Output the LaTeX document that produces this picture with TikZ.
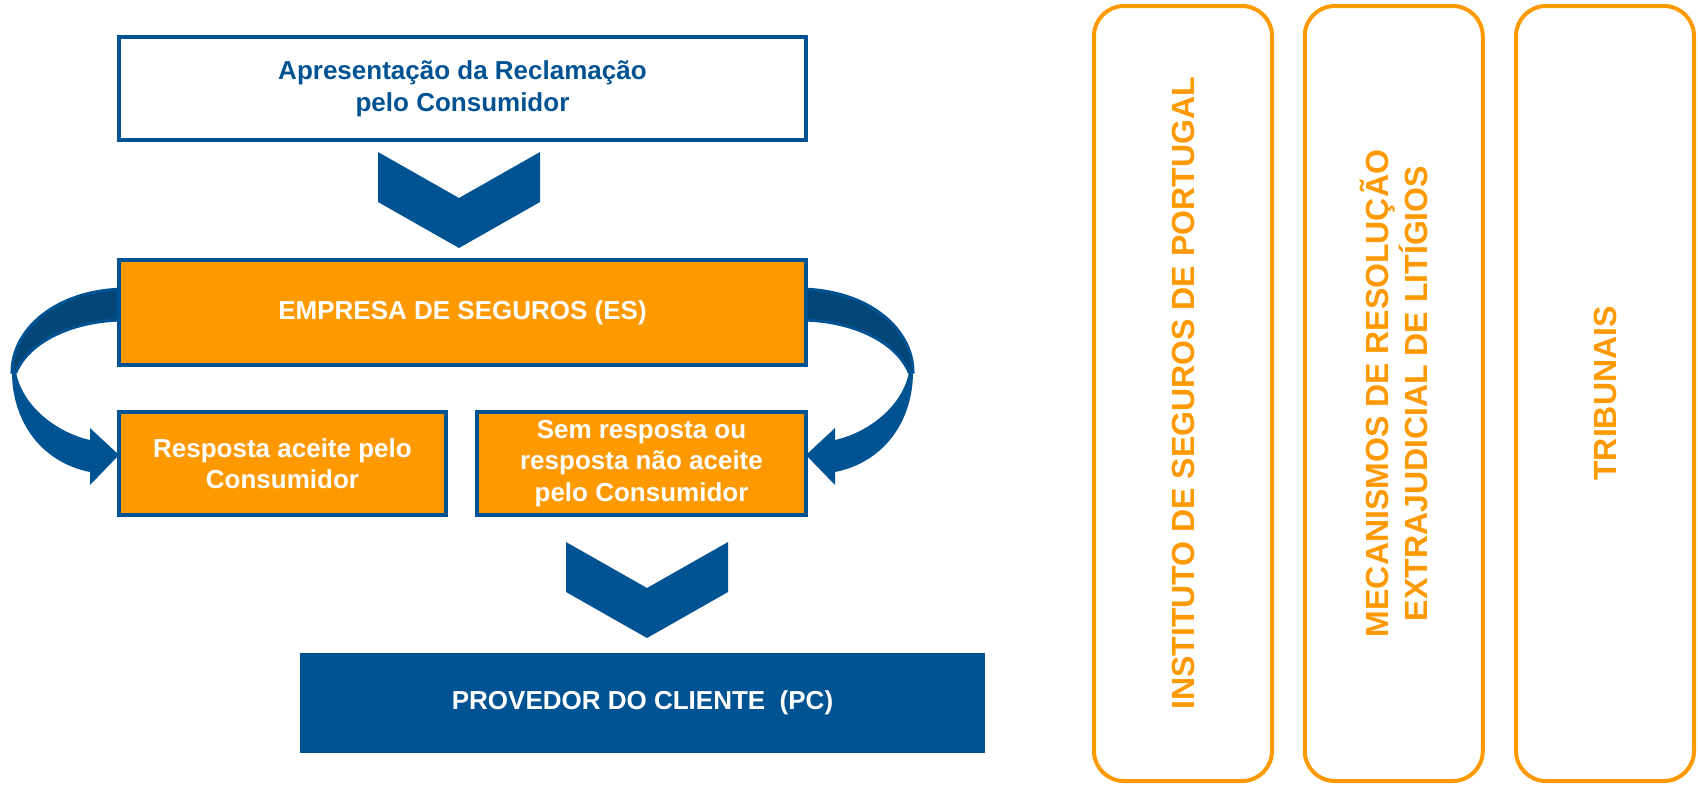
\documentclass[tikz,border=0pt]{standalone}
\usepackage{fontspec}
\setmainfont{Liberation Sans}
\usepackage{tikz}
\usetikzlibrary{calc}

\definecolor{r0g83b147}{RGB}{0,83,147}
\definecolor{r3g71b120}{RGB}{3,71,120}
\definecolor{r255g153b0}{RGB}{255,153,0}

\tikzset{
  stepbox/.style={rectangle, draw=r0g83b147, line width=2pt, inner sep=0pt, align=center,
    font=\fontsize{13}{15.8}\selectfont\bfseries},
  panel/.style={rectangle, rounded corners=15pt, draw=r255g153b0, line width=2pt, fill=white,
    text=r255g153b0, inner sep=0pt, align=center, rotate=90,
    minimum width=387.5pt, minimum height=89pt,
    font=\fontsize{16}{19.75}\selectfont\bfseries},
  bandback/.style={fill=r3g71b120, draw=r0g83b147, line width=1.5pt},
  bandfront/.style={fill=r0g83b147}
}

\begin{document}
\begin{tikzpicture}[x=0.5pt, y=-0.5pt]
  \useasboundingbox (0,0) rectangle (1698,784);

  % Drawing curved arrow ES -> resposta aceite
  \filldraw[bandback] (125,289) .. controls (55,290) and (12,330) .. (12,372) -- (16,372)
    .. controls (30,340) and (75,320) .. (125,320) -- cycle;
  \fill[bandfront] (12,372) .. controls (12,420) and (40,462) .. (90,472) -- (90,485) -- (119,455)
    -- (90,428) -- (90,440) .. controls (55,432) and (22,405) .. (16,372) -- cycle;

  % Drawing curved arrow ES -> sem resposta (mirrored)
  \begin{scope}[shift={(925,0)}, xscale=-1]
    \filldraw[bandback] (125,289) .. controls (55,290) and (12,330) .. (12,372) -- (16,372)
      .. controls (30,340) and (75,320) .. (125,320) -- cycle;
    \fill[bandfront] (12,372) .. controls (12,420) and (40,462) .. (90,472) -- (90,485) -- (119,455)
      -- (90,428) -- (90,440) .. controls (55,432) and (22,405) .. (16,372) -- cycle;
  \end{scope}

  % Drawing chevron between reclamacao and ES
  \fill[r0g83b147] (378,152) -- (459,198) -- (540,152) -- (540,202) -- (459,248) -- (378,202) -- cycle;

  % Drawing chevron between respostas and PC
  \fill[r0g83b147] (566,542) -- (647,588) -- (728,542) -- (728,592) -- (647,638) -- (566,592) -- cycle;

  % Boxes of the flow
  \node[stepbox, fill=white, text=r0g83b147, minimum width=343.5pt, minimum height=51.5pt]
    (recl) at (462.5,88.5) {Apresentação da Reclamação\\pelo Consumidor};
  \node[stepbox, fill=r255g153b0, text=white, minimum width=343.5pt, minimum height=52.5pt]
    (es) at (462.5,312.5) {EMPRESA DE SEGUROS (ES)};
  \node[stepbox, fill=r255g153b0, text=white, minimum width=163.5pt, minimum height=51.5pt]
    (aceite) at (282.5,463.5) {Resposta aceite pelo\\Consumidor};
  \node[stepbox, fill=r255g153b0, text=white, minimum width=164.5pt, minimum height=51.5pt]
    (naoaceite) at (641.5,463.5) {Sem resposta ou\\resposta não aceite\\pelo Consumidor};
  \node[stepbox, draw=none, fill=r0g83b147, text=white, minimum width=342.5pt, minimum height=50pt]
    (pc) at (642.5,703) {PROVEDOR DO CLIENTE\ \ (PC)};

  % Panels on the right
  \node[panel] (isp) at (1183,393.5) {INSTITUTO DE SEGUROS DE PORTUGAL};
  \node[panel] (ral) at (1393.75,393.5) {MECANISMOS DE RESOLUÇÃO\\EXTRAJUDICIAL DE LITÍGIOS};
  \node[panel] (trib) at (1605,393.5) {TRIBUNAIS};
\end{tikzpicture}
\end{document}
